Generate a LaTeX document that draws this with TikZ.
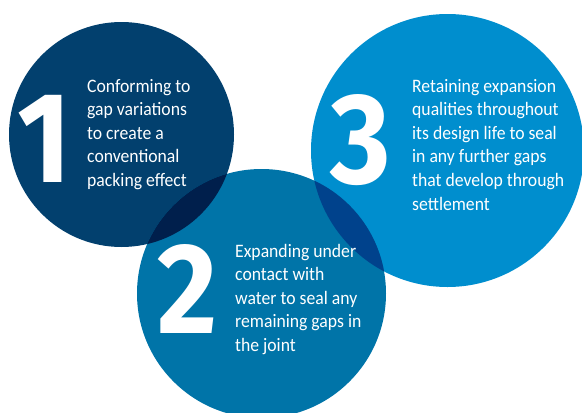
\documentclass[tikz,border=0pt]{standalone}
\usepackage{fontspec}
\setmainfont{Carlito}[FakeStretch=0.93]
\newfontfamily\digitfont{Fira Sans}[FakeStretch=0.9]
\definecolor{navyone}{RGB}{2,64,110}
\definecolor{bluetwo}{RGB}{0,116,168}
\definecolor{bluethree}{RGB}{0,142,206}
\definecolor{lapone}{RGB}{0,31,76}
\definecolor{laptwo}{RGB}{0,66,140}
\tikzset{
  bubble/.style={fill=#1, draw=none},
  numeral/.style={text=white, inner sep=0pt, anchor=base,
    font=\digitfont\fontsize{129}{129}\selectfont\bfseries},
  blurb/.style={text=white, inner sep=0pt, anchor=base west,
    font=\fontsize{19}{23.6}\selectfont},
}
\newcommand{\blurbtext}[2]{\parbox[t]{#1}{\raggedright #2}}
\begin{document}
\begin{tikzpicture}[x=1pt,y=-1pt]
  \useasboundingbox (0,0) rectangle (582,413);
  % centres of the three discs
  \coordinate (c1) at (121.5,134.5);
  \coordinate (c2) at (261.5,293.5);
  \coordinate (c3) at (447.5,150.5);
  \def\rone{112.5}\def\rtwo{124.5}\def\rthree{136.5}
  % discs
  \fill[bubble=navyone] (c1) circle[radius=\rone];
  \fill[bubble=bluethree] (c3) circle[radius=\rthree];
  \fill[bubble=bluetwo] (c2) circle[radius=\rtwo];
  % darker lens where disc 2 meets disc 1
  \begin{scope}
    \clip (c1) circle[radius=\rone];
    \fill[bubble=lapone] (c2) circle[radius=\rtwo];
  \end{scope}
  % darker lens where disc 2 meets disc 3
  \begin{scope}
    \clip (c3) circle[radius=\rthree];
    \fill[bubble=laptwo] (c2) circle[radius=\rtwo];
  \end{scope}
  % big numerals
  \node[numeral] (n1) at (44,182) {1};
  \node[numeral] (n2) at (187.5,333) {2};
  \node[numeral] (n3) at (360.5,183) {3};
  % descriptions
  \node[blurb] (t1) at (87,92) {\blurbtext{140pt}{Conforming to\\gap variations\\to create a\\conventional\\packing effect}};
  \node[blurb] (t2) at (235,257) {\blurbtext{160pt}{Expanding under\\contact with\\water to seal any\\remaining gaps in\\the joint}};
  \node[blurb] (t3) at (412,92) {\blurbtext{170pt}{Retaining expansion\\qualities throughout\\its design life to seal\\in any further gaps\\that develop through\\settlement}};
\end{tikzpicture}
\end{document}
